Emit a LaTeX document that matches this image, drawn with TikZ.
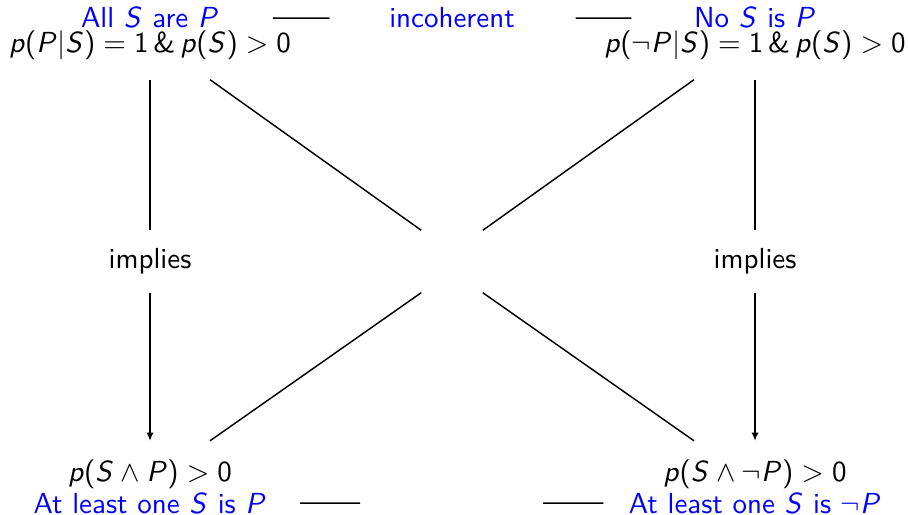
\documentclass[tikz,border=0pt]{standalone}
\usepackage{amsmath}
\usepackage{xcolor}
\usepackage{tikz}
\usetikzlibrary{arrows.meta,positioning,calc}
\renewcommand{\familydefault}{\sfdefault}
% sans serif math letters and digits
\SetSymbolFont{operators}{normal}{OT1}{cmss}{m}{n}
\DeclareSymbolFont{sfletters}{OT1}{cmss}{m}{sl}
\DeclareMathSymbol{p}{\mathalpha}{sfletters}{`p}
\DeclareMathSymbol{P}{\mathalpha}{sfletters}{`P}
\DeclareMathSymbol{S}{\mathalpha}{sfletters}{`S}
\definecolor{Claim}{RGB}{0,0,255}

\begin{document}
\begin{tikzpicture}[x=0.01212cm,y=-0.01212cm,line width=0.5pt,
  every node/.style={font=\normalsize,align=center,inner sep=0pt},
  claim/.style={text=Claim,anchor=base},
  cond/.style={anchor=base,outer ysep=6.7pt},
  link/.style={minimum height=21pt},
  arr/.style={-{Latex[length=2.8pt,width=2.5pt]}}
]
\useasboundingbox (0,0) rectangle (909,515);
% corners
\node[claim] (tlS) at (150,28) {All $S$ are $P$};
\node[cond] (tlF) at (150,53) {$p(P|S) = 1\,\&\,p(S) > 0$};
\node[claim] (trS) at (755,28) {No $S$ is $P$};
\node[cond] (trF) at (755,53) {$p(\neg P|S) = 1\,\&\,p(S) > 0$};
\node[cond] (blF) at (150,482) {$p(S\wedge P) > 0$};
\node[claim] (blS) at (150,513) {At least one $S$ is $P$};
\node[cond] (brF) at (755,482) {$p(S\wedge\neg P) > 0$};
\node[claim] (brS) at (755,513) {At least one $S$ is $\neg P$};
% middle
\node[claim] (inc) at (452,28) {incoherent};
\node[link] (impL) at (150,261.5) {implies};
\node[link] (impR) at (755,261.5) {implies};
\node[link,minimum width=20.7pt] (mid) at (452,261.5) {};
\coordinate (sub) at (452,503);
% connectors
\draw[shorten <=18.3pt,shorten >=20.3pt] (tlS) -- (inc);
\draw[shorten <=20.7pt,shorten >=21.4pt] (inc) -- (trS);
\draw[shorten <=11.4pt,shorten >=31.7pt] (blS) -- (sub);
\draw[shorten <=31.4pt,shorten >=8.6pt] (sub) -- (brS);
\draw (tlF) -- (impL); \draw[arr] (impL) -- (blF);
\draw (trF) -- (impR); \draw[arr] (impR) -- (brF);
\draw ($(tlF.south)+(60,0)$) -- (mid.north west);
\draw ($(trF.south)+(-61,0)$) -- (mid.north east);
\draw ($(blF.north)+(60,0)$) -- (mid.south west);
\draw ($(brF.north)+(-61,0)$) -- (mid.south east);
\end{tikzpicture}
\end{document}
